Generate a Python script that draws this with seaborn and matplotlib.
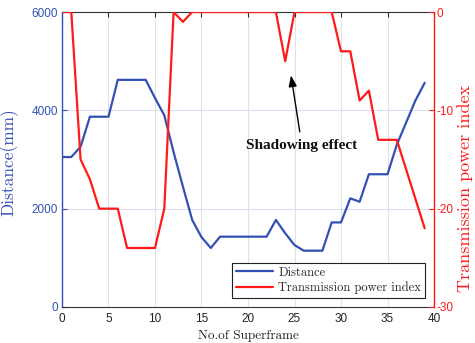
import matplotlib
matplotlib.use("Agg")
import matplotlib.pyplot as plt
import seaborn as sns
import pandas as pd

# Measurements per superframe
superframe = list(range(40))
distance_mm = [3050, 3050, 3260, 3870, 3870, 3870, 4620, 4620, 4620, 4620,
               4250, 3900, 3150, 2450, 1770, 1420, 1200, 1430, 1430, 1430,
               1430, 1430, 1430, 1770, 1500, 1260, 1145, 1145, 1145, 1720,
               1720, 2210, 2140, 2700, 2700, 2700, 3300, 3750, 4200, 4560]
power_index = [0, 0, -15, -17, -20, -20, -20, -24, -24, -24,
               -24, -20, 0, -1, 0, 0, 0, 0, 0, 0,
               0, 0, 0, 0, -5, 0, 0, 0, 0, 0,
               -4, -4, -9, -8, -13, -13, -13, -16, -19, -22]

x_ticks = [0, 5, 10, 15, 20, 25, 30, 35, 40]
left_ticks = [0, 2000, 4000, 6000]
right_ticks = [0, -10, -20, -30]

df = pd.DataFrame({"superframe": superframe,
                   "distance": distance_mm,
                   "power": power_index})

sns.set_style("white")
plt.rcParams["font.family"] = ["cmr10", "DejaVu Serif"]
plt.rcParams["axes.unicode_minus"] = False

BLUE = "#3350b4"
RED = "#ff1a1a"
tick_font = {"family": "Liberation Sans", "size": 8.5}

fig = plt.figure(figsize=(4.75, 3.43), dpi=100)
ax = fig.add_axes([0.1305, 0.105, 0.7832, 0.860])
ax2 = ax.twinx()

sns.lineplot(data=df, x="superframe", y="distance", ax=ax, color=BLUE,
             linewidth=1.6, label="Distance", legend=False)
sns.lineplot(data=df, x="superframe", y="power", ax=ax2, color=RED,
             linewidth=1.6, label="Transmission power index", legend=False)

ax.set_xlim(0, 40)
ax.set_ylim(0, 6000)
ax2.set_ylim(-30, 0)
ax.set_xticks(x_ticks)
ax.set_yticks(left_ticks)
ax2.set_yticks(right_ticks)
ax.set_xticklabels([str(v) for v in x_ticks], fontdict=tick_font, color="#222222")
ax.set_yticklabels([str(v) for v in left_ticks], fontdict=tick_font, color=BLUE)
ax2.set_yticklabels([str(v) for v in right_ticks], fontdict=tick_font, color=RED)

# grid: grey verticals, lavender horizontals
ax.grid(False)
ax.xaxis.grid(True, color="#e2e2e2", linewidth=0.8)
ax.yaxis.grid(True, color="#dcdcf2", linewidth=0.8)
ax.set_axisbelow(True)

ax.tick_params(axis="x", direction="in", length=3.5, top=True, width=0.8,
               color="#333333", pad=4)
ax.tick_params(axis="y", direction="in", length=3.5, width=0.8, color=BLUE, pad=3)
ax2.tick_params(axis="y", direction="in", length=3.5, width=0.8, color=RED, pad=2)

for side in ["top", "bottom"]:
    ax.spines[side].set_color("#333333")
    ax.spines[side].set_linewidth(0.8)
    ax2.spines[side].set_visible(False)
ax.spines["left"].set_color(BLUE)
ax.spines["left"].set_linewidth(1.0)
ax.spines["right"].set_visible(False)
ax2.spines["left"].set_visible(False)
ax2.spines["right"].set_color(RED)
ax2.spines["right"].set_linewidth(1.0)

ax.set_xlabel("No.of Superframe", fontsize=9.5, color="#222222")
ax.xaxis.set_label_coords(0.5, -0.078)
ax.set_ylabel("Distance(mm)", fontsize=12.5, color=BLUE)
ax.yaxis.set_label_coords(-0.118, 0.49)
ax2.set_ylabel("Transmission power index", fontsize=13, color=RED, rotation=90)
ax2.yaxis.set_label_coords(1.062, 0.40)

ax2.annotate("Shadowing effect", xy=(24.6, -6.3), xytext=(25.8, -13.6),
             ha="center", va="center", fontsize=11, fontweight="bold",
             family="Liberation Serif", color="#111111",
             arrowprops=dict(arrowstyle="-|>,head_length=0.6,head_width=0.22",
                             color="black", lw=1.0, shrinkA=3, shrinkB=1))

h1, l1 = ax.get_legend_handles_labels()
h2, l2 = ax2.get_legend_handles_labels()
leg = ax2.legend(h1 + h2, l1 + l2, loc="lower right",
                 bbox_to_anchor=(0.975, 0.03), fontsize=9, frameon=True,
                 fancybox=False, framealpha=1, edgecolor="#222222",
                 borderpad=0.3, handlelength=3.0, handletextpad=0.4,
                 labelspacing=0.25, borderaxespad=0)
leg.get_frame().set_linewidth(0.8)

fig.savefig("out.png", dpi=100)
